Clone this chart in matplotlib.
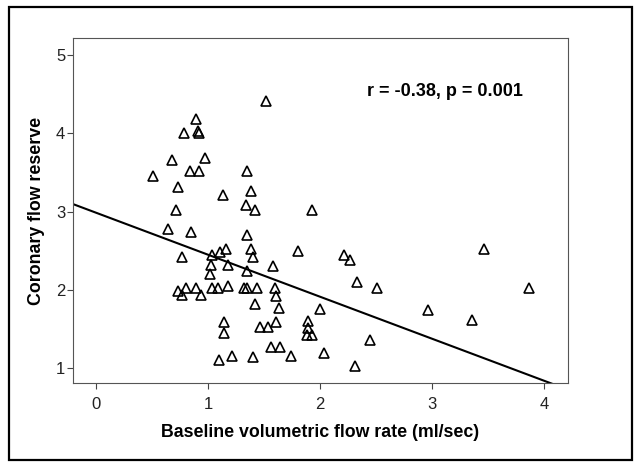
import numpy as np
import matplotlib.pyplot as plt
from matplotlib.patches import Rectangle

plt.rcParams['font.family'] = ['Liberation Sans', 'DejaVu Sans']

# baseline volumetric flow rate (ml/sec)
flow_rate = [1.52, 0.89, 0.79, 0.91, 0.92, 0.68, 0.97, 0.51, 0.84, 0.92,
             1.35, 0.73, 1.13, 1.38, 1.34, 1.42, 0.71, 1.93, 0.64, 0.85,
             1.35, 0.77, 1.04, 1.11, 1.16, 1.38, 1.40, 1.80, 2.21, 2.27,
             3.46, 1.03, 1.18, 1.58, 1.02, 1.35, 2.33, 0.73, 0.80, 0.77,
             0.89, 0.94, 1.04, 1.09, 1.18, 1.32, 1.35, 1.44, 1.60, 2.51,
             3.87, 1.61, 1.42, 1.63, 2.00, 2.96, 1.14, 1.61, 1.89, 3.36,
             1.46, 1.54, 1.89, 1.14, 1.88, 1.93, 2.45, 1.56, 1.64, 1.10,
             1.21, 1.40, 1.74, 2.04, 2.31]

# coronary flow reserve
cfr = [4.41, 4.18, 4.01, 4.03, 4.00, 3.66, 3.68, 3.45, 3.52, 3.52,
       3.52, 3.32, 3.21, 3.27, 3.08, 3.02, 3.02, 3.02, 2.78, 2.74,
       2.70, 2.42, 2.45, 2.48, 2.52, 2.52, 2.42, 2.50, 2.45, 2.38,
       2.52, 2.32, 2.32, 2.31, 2.20, 2.24, 2.10, 1.98, 2.03, 1.93,
       2.03, 1.93, 2.02, 2.02, 2.05, 2.03, 2.03, 2.02, 2.02, 2.02,
       2.03, 1.92, 1.82, 1.77, 1.76, 1.74, 1.59, 1.59, 1.60, 1.61,
       1.52, 1.53, 1.51, 1.45, 1.42, 1.42, 1.36, 1.27, 1.27, 1.10,
       1.16, 1.14, 1.16, 1.19, 1.03]

# linear fit shown in the figure
fit_intercept = 2.987
fit_slope = -0.537
stats_text = "r = -0.38, p = 0.001"

x_ticks = [0, 1, 2, 3, 4]
y_ticks = [1, 2, 3, 4, 5]

fig = plt.figure(figsize=(6.41, 4.67), dpi=100)
ax = fig.add_axes([0.1139, 0.1799, 0.7722, 0.7387])

ax.plot(flow_rate, cfr, linestyle='none', marker='^', markersize=7,
        markerfacecolor='none', markeredgecolor='black', markeredgewidth=1.2)

xmin, xmax = -0.205, 4.214
fit_x = np.array([xmin, xmax])
ax.plot(fit_x, fit_intercept + fit_slope * fit_x, color='black', linewidth=1.5)

ax.set_xlim(xmin, xmax)
ax.set_ylim(0.81, 5.22)
ax.set_xticks(x_ticks)
ax.set_yticks(y_ticks)
ax.tick_params(direction='out', length=4, width=0.8, color='#444444',
               labelsize=12, labelcolor='#222222')
ax.tick_params(axis='x', pad=6)
ax.tick_params(axis='y', pad=1.5)
for side in ax.spines.values():
    side.set_color('#555555')
    side.set_linewidth(0.8)

ax.set_xlabel('Baseline volumetric flow rate (ml/sec)', fontsize=12.8,
              fontweight='bold', labelpad=9)
ax.set_ylabel('Coronary flow reserve', fontsize=12.8, fontweight='bold',
              labelpad=8)

ax.text(2.42, 4.54, stats_text, fontsize=13, fontweight='bold',
        ha='left', va='center')

# black frame round the whole figure
fig.patches.append(Rectangle((0.014, 0.015), 0.972, 0.970,
                             transform=fig.transFigure, fill=False,
                             edgecolor='black', linewidth=1.6))

fig.savefig('out.png', dpi=100)
